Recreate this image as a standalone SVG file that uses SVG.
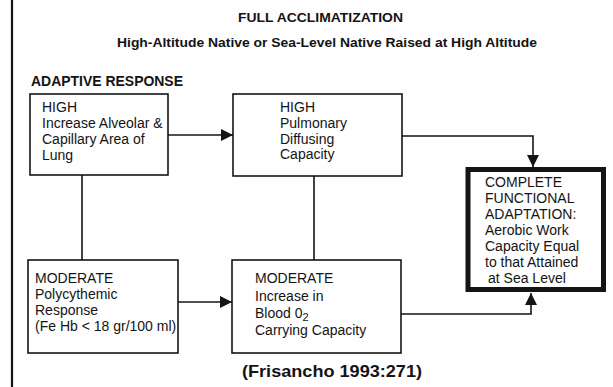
<svg xmlns="http://www.w3.org/2000/svg" width="613" height="387" viewBox="0 0 613 387">
<defs>
<style>
text{font-family:"Liberation Sans",Arial,sans-serif;fill:#141414}
.b{font-weight:bold}
.t{font-size:14px}
.box{fill:none;stroke:#141414;stroke-width:1.6}
.thick{fill:none;stroke:#141414;stroke-width:5}
.ln{fill:none;stroke:#141414;stroke-width:1.6}
</style>
<marker id="ah" viewBox="0 0 12 12" refX="12" refY="6" markerWidth="12" markerHeight="12" markerUnits="userSpaceOnUse" orient="auto">
<path d="M0,0 L12,6 L0,12 Z" fill="#141414"/>
</marker>
</defs>
<rect width="613" height="387" fill="#fefefe"/>
<line x1="12" y1="0" x2="12" y2="387" stroke="#141414" stroke-width="2.2"/>
<text class="b" x="238" y="22" font-size="13.5" textLength="165" lengthAdjust="spacingAndGlyphs">FULL ACCLIMATIZATION</text>
<text class="b" x="117" y="46.5" font-size="13.5" textLength="420" lengthAdjust="spacingAndGlyphs">High-Altitude Native or Sea-Level Native Raised at High Altitude</text>
<text class="b" x="31" y="86" font-size="14" textLength="152" lengthAdjust="spacingAndGlyphs">ADAPTIVE RESPONSE</text>
<g id="connectors">
<line class="ln" x1="168" y1="135" x2="233" y2="135" marker-end="url(#ah)"/>
<polyline class="ln" points="402,136 533,136 533,167" marker-end="url(#ah)"/>
<line class="ln" x1="82" y1="175" x2="82" y2="260"/>
<line class="ln" x1="314" y1="176" x2="314" y2="260"/>
<line class="ln" x1="178" y1="302" x2="232" y2="302" marker-end="url(#ah)"/>
<polyline class="ln" points="401,314 531,314 531,293" marker-end="url(#ah)"/>
</g>
<g id="high-lung">
<rect class="box" x="30" y="94" width="138" height="81"/>
<text class="t" x="42"><tspan x="42" y="112">HIGH</tspan><tspan x="42" y="128">Increase Alveolar &amp;</tspan><tspan x="42" y="144">Capillary Area of</tspan><tspan x="42" y="160">Lung</tspan></text>
</g>
<g id="high-pulmonary">
<rect class="box" x="233" y="94" width="169" height="82"/>
<text class="t" x="280"><tspan x="280" y="112">HIGH</tspan><tspan x="280" y="128">Pulmonary</tspan><tspan x="280" y="144">Diffusing</tspan><tspan x="280" y="159">Capacity</tspan></text>
</g>
<g id="complete">
<rect class="thick" x="468" y="169.5" width="135.5" height="120"/>
<text class="t"><tspan x="485" y="187">COMPLETE</tspan><tspan x="485" y="203">FUNCTIONAL</tspan><tspan x="485" y="219">ADAPTATION:</tspan><tspan x="485" y="235">Aerobic Work</tspan><tspan x="485" y="251">Capacity Equal</tspan><tspan x="485" y="267">to that Attained</tspan><tspan x="488" y="283">at Sea Level</tspan></text>
</g>
<g id="moderate-poly">
<rect class="box" x="28" y="260" width="150" height="93"/>
<text class="t"><tspan x="35" y="283">MODERATE</tspan><tspan x="35" y="298.5">Polycythemic</tspan><tspan x="35" y="314.5">Response</tspan><tspan x="35" y="330.5">(Fe Hb &lt; 18 gr/100 ml)</tspan></text>
</g>
<g id="moderate-blood">
<rect class="box" x="232" y="260" width="169" height="93"/>
<text class="t"><tspan x="255" y="283">MODERATE</tspan><tspan x="255" y="300.5">Increase in</tspan><tspan x="255" y="317.5">Blood 0</tspan><tspan font-size="11" dy="3">2</tspan><tspan x="255" y="334.5">Carrying Capacity</tspan></text>
</g>
<text class="b" x="242" y="377" font-size="17" textLength="180" lengthAdjust="spacingAndGlyphs">(Frisancho 1993:271)</text>
</svg>
